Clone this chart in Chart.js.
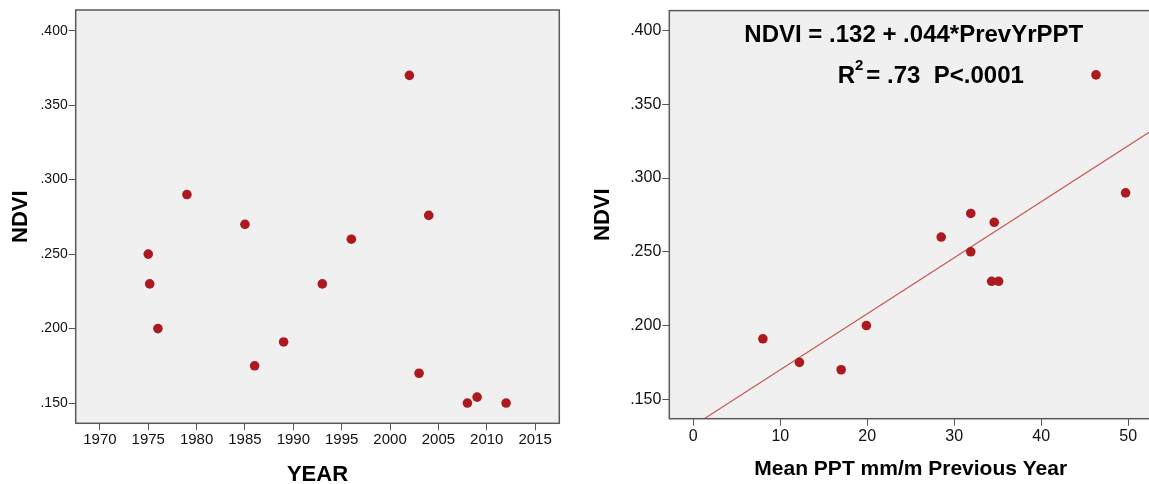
<!DOCTYPE html>
<html>
<head>
<meta charset="utf-8">
<script src="https://cdn.jsdelivr.net/npm/chart.js@4"></script>
<style>
  html, body { margin: 0; padding: 0; background: #fff; overflow: hidden; }
  body { width: 1149px; height: 484px; position: relative; }
  .panel { position: absolute; top: 0; height: 484px; }
  #left { left: 0; width: 575px; }
  #right { left: 575px; width: 582px; }
</style>
</head>
<body>
<div class="panel" id="left"><canvas id="yearChart"></canvas></div>
<div class="panel" id="right"><canvas id="pptChart"></canvas></div>
<script>
// NDVI by year
const years = [1975, 1975.15, 1976, 1979, 1985, 1986, 1989, 1993, 1996, 2002, 2003, 2004, 2008, 2009, 2012];
const ndviByYear = [.250, .230, .200, .290, .270, .175, .191, .230, .260, .370, .170, .276, .150, .154, .150];

// NDVI against previous year's precipitation
const prevYrPpt = [8.0, 12.2, 17.0, 19.9, 28.5, 31.9, 31.9, 34.6, 34.3, 35.1, 46.3, 49.7];
const ndviByPpt = [.191, .175, .170, .200, .260, .276, .250, .270, .230, .230, .370, .290];

// fitted line ends
const fitX = [0, 53];
const fitY = [.132, .3334];

const yearTicks = [1970, 1975, 1980, 1985, 1990, 1995, 2000, 2005, 2010, 2015];
const pptTicks = [0, 10, 20, 30, 40, 50];
const ndviTicks = [.150, .200, .250, .300, .350, .400];

const equationText = 'NDVI = .132 + .044*PrevYrPPT';
const fitStatsText = ['R', '2', '= .73  P<.0001'];

const FONT = '"Liberation Sans", Arial, sans-serif';
const DOT = '#ac1a1f';

const plotFrame = {
  id: 'plotFrame',
  beforeDraw(chart) {
    const { ctx, chartArea: a } = chart;
    ctx.save();
    ctx.fillStyle = '#f0f0f0';
    ctx.fillRect(a.left, a.top, a.right - a.left, a.bottom - a.top);
    ctx.restore();
  },
  afterDraw(chart) {
    const { ctx, chartArea: a } = chart;
    ctx.save();
    ctx.strokeStyle = '#5a5a5a';
    ctx.lineWidth = 1.5;
    ctx.strokeRect(a.left, a.top, a.right - a.left, a.bottom - a.top);
    ctx.restore();
  }
};

const fitLabel = {
  id: 'fitLabel',
  afterDatasetsDraw(chart) {
    const { ctx, scales: { x, y } } = chart;
    ctx.save();
    ctx.fillStyle = '#000';
    ctx.textBaseline = 'middle';
    ctx.textAlign = 'center';
    ctx.font = 'bold 24px ' + FONT;
    ctx.fillText(equationText, x.getPixelForValue(25.35), y.getPixelForValue(.3968));

    // second line, R with a raised 2
    const big = 'bold 24px ' + FONT, small = 'bold 15px ' + FONT;
    ctx.font = big;
    const wR = ctx.measureText(fitStatsText[0]).width;
    const wRest = ctx.measureText(fitStatsText[2]).width;
    ctx.font = small;
    const w2 = ctx.measureText(fitStatsText[1]).width;
    const gap = 3;
    const total = wR + w2 + gap + wRest;
    let cx = x.getPixelForValue(27.3) - total / 2;
    const cy = y.getPixelForValue(.369);
    ctx.textAlign = 'left';
    ctx.font = big;
    ctx.fillText(fitStatsText[0], cx, cy);
    cx += wR;
    ctx.font = small;
    ctx.fillText(fitStatsText[1], cx, cy - 10);
    cx += w2 + gap;
    ctx.font = big;
    ctx.fillText(fitStatsText[2], cx, cy);
    ctx.restore();
  }
};

function xAxis(tickValues, min, max, height, fontSize, title, titleSize, titlePad) {
  return {
    type: 'linear', position: 'bottom', min, max,
    afterBuildTicks: (s) => { s.ticks = tickValues.map((v) => ({ value: v })); },
    afterFit: (s) => { s.height = height; },
    grid: { drawOnChartArea: false, drawTicks: true, tickLength: 7, color: '#555', lineWidth: 1 },
    border: { display: false },
    ticks: {
      color: '#111', padding: 1, maxRotation: 0, font: { family: FONT, size: fontSize },
      callback: (v) => String(v)
    },
    title: {
      display: true, text: title, color: '#000',
      font: { family: FONT, size: titleSize, weight: 'bold', lineHeight: 1 },
      padding: { top: 0, bottom: titlePad }
    }
  };
}

function yAxis(width, fontSize, titlePad) {
  return {
    type: 'linear', position: 'left',
    afterBuildTicks: (s) => { s.ticks = ndviTicks.map((v) => ({ value: v })); },
    afterFit: (s) => { s.width = width; },
    grid: { drawOnChartArea: false, drawTicks: true, tickLength: 7, color: '#555', lineWidth: 1 },
    border: { display: false },
    ticks: {
      color: '#111', padding: 1, font: { family: FONT, size: fontSize },
      callback: (v) => v.toFixed(3).replace(/^0/, '')
    },
    title: {
      display: true, text: 'NDVI', color: '#000',
      font: { family: FONT, size: 22, weight: 'bold', lineHeight: 1 },
      padding: { top: titlePad, bottom: 0 }
    }
  };
}

const baseOptions = {
  responsive: true,
  maintainAspectRatio: false,
  animation: false,
  plugins: { legend: { display: false }, tooltip: { enabled: false } }
};

new Chart(document.getElementById('yearChart'), {
  type: 'scatter',
  data: {
    datasets: [{
      data: years.map((x, i) => ({ x, y: ndviByYear[i] })),
      backgroundColor: DOT, borderColor: DOT, borderWidth: 0, pointRadius: 4.8
    }]
  },
  options: {
    ...baseOptions,
    layout: { padding: { top: 10, right: 15.7, bottom: 0, left: 0 } },
    scales: {
      x: xAxis(yearTicks, 1967.5, 2017.5, 60.7, 15, 'YEAR', 22, -2),
      y: { ...yAxis(75.7, 14, 10), min: .1364, max: .4139 }
    }
  },
  plugins: [plotFrame]
});

new Chart(document.getElementById('pptChart'), {
  type: 'scatter',
  data: {
    datasets: [
      {
        data: prevYrPpt.map((x, i) => ({ x, y: ndviByPpt[i] })),
        backgroundColor: DOT, borderColor: DOT, borderWidth: 0, pointRadius: 4.8
      },
      {
        type: 'line',
        data: fitX.map((x, i) => ({ x, y: fitY[i] })),
        borderColor: '#c75a57', borderWidth: 1.2, pointRadius: 0, showLine: true, fill: false
      }
    ]
  },
  options: {
    ...baseOptions,
    layout: { padding: { top: 4.7, right: 0, bottom: 0, left: 0 } },
    scales: {
      x: xAxis(pptTicks, -2.76, 52.76, 65.3, 16, 'Mean PPT mm/m Previous Year', 21, 4.5),
      y: { ...yAxis(94.3, 16, 16.5), min: .1368, max: .4136 }
    }
  },
  plugins: [plotFrame, fitLabel]
});
</script>
</body>
</html>
